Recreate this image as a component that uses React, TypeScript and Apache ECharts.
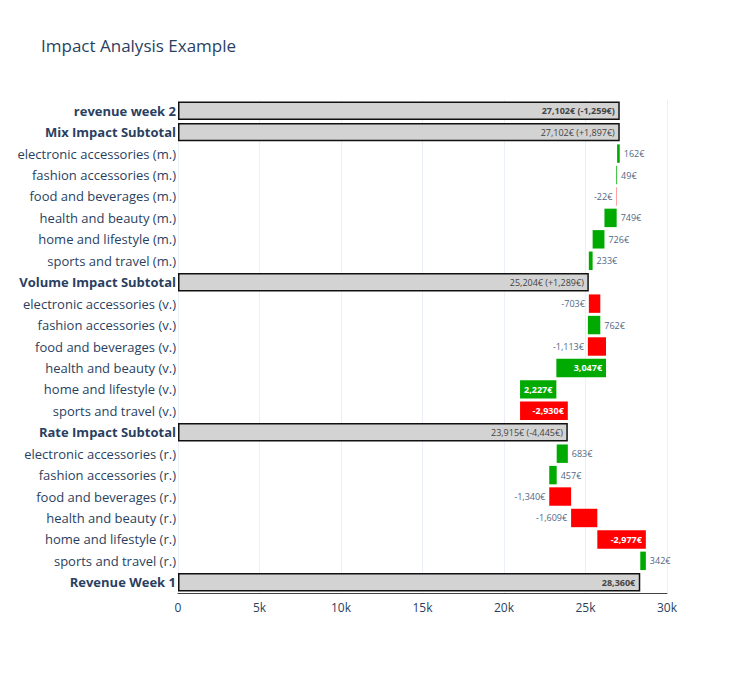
import React, { useEffect, useRef } from "react";
import * as echarts from "echarts";

const categories = [
  "revenue week 2", "Mix Impact Subtotal",
  "electronic accessories (m.)", "fashion accessories (m.)", "food and beverages (m.)", "health and beauty (m.)", "home and lifestyle (m.)", "sports and travel (m.)",
  "Volume Impact Subtotal",
  "electronic accessories (v.)", "fashion accessories (v.)", "food and beverages (v.)", "health and beauty (v.)", "home and lifestyle (v.)", "sports and travel (v.)",
  "Rate Impact Subtotal",
  "electronic accessories (r.)", "fashion accessories (r.)", "food and beverages (r.)", "health and beauty (r.)", "home and lifestyle (r.)", "sports and travel (r.)",
  "Revenue Week 1",
];
// null = total / subtotal row
const deltas: (number | null)[] = [
  null, null, 162, 49, -22, 749, 726, 233, null, -703, 762, -1113, 3047, 2227, -2930, null, 683, 457, -1340, -1609, -2977, 342, null,
];
const totals: (number | null)[] = [27102, 27102, null, null, null, null, null, null, 25204, null, null, null, null, null, null, 23915, null, null, null, null, null, null, 28360];
const totalChanges: (number | null)[] = [-1259, 1897, null, null, null, null, null, null, 1289, null, null, null, null, null, null, -4445, null, null, null, null, null, null, null];

const fmt = (v: number) => v.toLocaleString("en-US");

export default function App() {
  const ref = useRef<HTMLDivElement>(null);
  useEffect(() => {
    const chart = echarts.init(ref.current!, undefined, { renderer: "svg" });
    const n = categories.length;
    const base: any[] = new Array(n).fill(0);
    const len: any[] = new Array(n).fill(0);
    let run = 0;
    for (let i = n - 1; i >= 0; i--) {
      const d = deltas[i];
      if (d === null) {
        const t = totals[i] as number;
        run = t;
        const c = totalChanges[i];
        const text = c === null ? `${fmt(t)}€` : `${fmt(t)}€ (${c > 0 ? "+" : ""}${fmt(c)}€)`;
        base[i] = 0;
        len[i] = {
          value: t,
          itemStyle: { color: "#d3d3d3", borderColor: "#111", borderWidth: 1.5 },
          label: {
            show: true, position: "insideRight", color: "#444", fontSize: 9,
            fontWeight: i === 0 || i === n - 1 ? "bold" : "normal",
            formatter: text,
          },
        };
      } else {
        const start = run;
        run = run + d;
        base[i] = Math.min(start, run);
        const big = Math.abs(d) > 2000;
        len[i] = {
          value: Math.abs(d),
          itemStyle: { color: d > 0 ? "#00aa00" : "#ff0000" },
          label: {
            show: true,
            position: big ? "insideRight" : d > 0 ? "right" : "left",
            color: big ? "#fff" : "#506784",
            fontWeight: big ? "bold" : "normal",
            fontSize: 9,
            distance: 4,
            formatter: `${fmt(d)}€`,
          },
        };
      }
    }
    const bold = new Set([0, 1, 8, 15, 22]);
    chart.setOption({
      animation: false,
      title: { text: "Impact Analysis Example", left: 28, top: 24, textStyle: { fontSize: 17, fontWeight: "normal", color: "#2a3f5f", fontFamily: "Open Sans" } },
      grid: { left: 170, right: 75, top: 92, bottom: 74 },
      xAxis: {
        type: "value", min: 0, max: 30000, interval: 5000,
        axisLabel: { color: "#2a3f5f", fontSize: 12, formatter: (v: number) => (v === 0 ? "0" : v / 1000 + "k") },
        splitLine: { lineStyle: { color: "#ebf0f8" } },
        axisLine: { show: true, lineStyle: { color: "#444" } },
      },
      yAxis: {
        type: "category", data: categories, inverse: true,
        axisTick: { show: false }, axisLine: { show: false },
        axisLabel: {
          fontSize: 13, color: "#2a3f5f", margin: 2,
          formatter: (v: string, i: number) => (bold.has(i) ? `{b|${v}}` : v),
          rich: { b: { fontWeight: "bold", fontSize: 13, color: "#2a3f5f" } },
        },
      },
      series: [
        { type: "bar", stack: "w", data: base, itemStyle: { color: "transparent" }, barCategoryGap: "14%", silent: true },
        { type: "bar", stack: "w", data: len, barCategoryGap: "14%" },
      ],
      textStyle: { fontFamily: "Open Sans" },
    });
    return () => chart.dispose();
  }, []);
  return <div ref={ref} style={{ width: 734, height: 659 }} />;
}
